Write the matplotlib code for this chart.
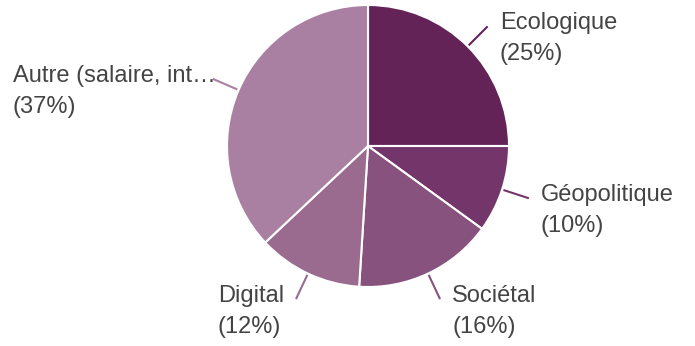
import numpy as np
import matplotlib
matplotlib.use('Agg')
import matplotlib.pyplot as plt

plt.rcParams['font.family'] = ['Liberation Sans', 'DejaVu Sans']

labels = ['Ecologique', 'Géopolitique', 'Sociétal', 'Digital', 'Autre (salaire, int…']
percents = [25, 10, 16, 12, 37]
colors = ['#632357', '#74366a', '#88527f', '#9a6a8f', '#aa80a2']

W, H = 695, 346
fig = plt.figure(figsize=(W / 100, H / 100), dpi=100)
ax = fig.add_axes([0, 0, 1, 1])

# pixel-based data coords (y up)
cx, cy, r = 368, H - 146, 141
wedges, _ = ax.pie(percents, colors=colors, startangle=90, counterclock=False,
                   center=(cx, cy), radius=r,
                   wedgeprops=dict(edgecolor='white', linewidth=1.5))
ax.set_xlim(0, W)
ax.set_ylim(0, H)
ax.set_aspect('equal')
ax.axis('off')

renderer = fig.canvas.get_renderer()
text_color = '#444444'
fs = 17
margin = 13
line_gap = 31
for w, lab, pct, col in zip(wedges, labels, percents, colors):
    ang = np.deg2rad((w.theta1 + w.theta2) / 2)
    ca, sa = np.cos(ang), np.sin(ang)
    x0, y0 = cx + r * 1.01 * ca, cy + r * 1.01 * sa
    x1, y1 = cx + r * 1.2 * ca, cy + r * 1.2 * sa
    ax.plot([x0, x1], [y0, y1], color=col, lw=1.5, solid_capstyle='butt')
    side = 1 if ca >= 0 else -1
    tx = x1 + 12 * side
    ty = y1 - 3
    t = ax.text(tx, ty, lab, ha='left' if side > 0 else 'right',
                va='baseline', fontsize=fs, color=text_color)
    left = tx
    if side < 0:
        bb = t.get_window_extent(renderer)
        left = ax.transData.inverted().transform((bb.x0, 0))[0]
        if left < margin:
            left = margin
            t.set_ha('left')
            t.set_x(margin)
    ax.text(left, ty - line_gap, '(%d%%)' % pct, ha='left', va='baseline',
            fontsize=fs, color=text_color)

fig.savefig('out.png', dpi=100, facecolor='white')
